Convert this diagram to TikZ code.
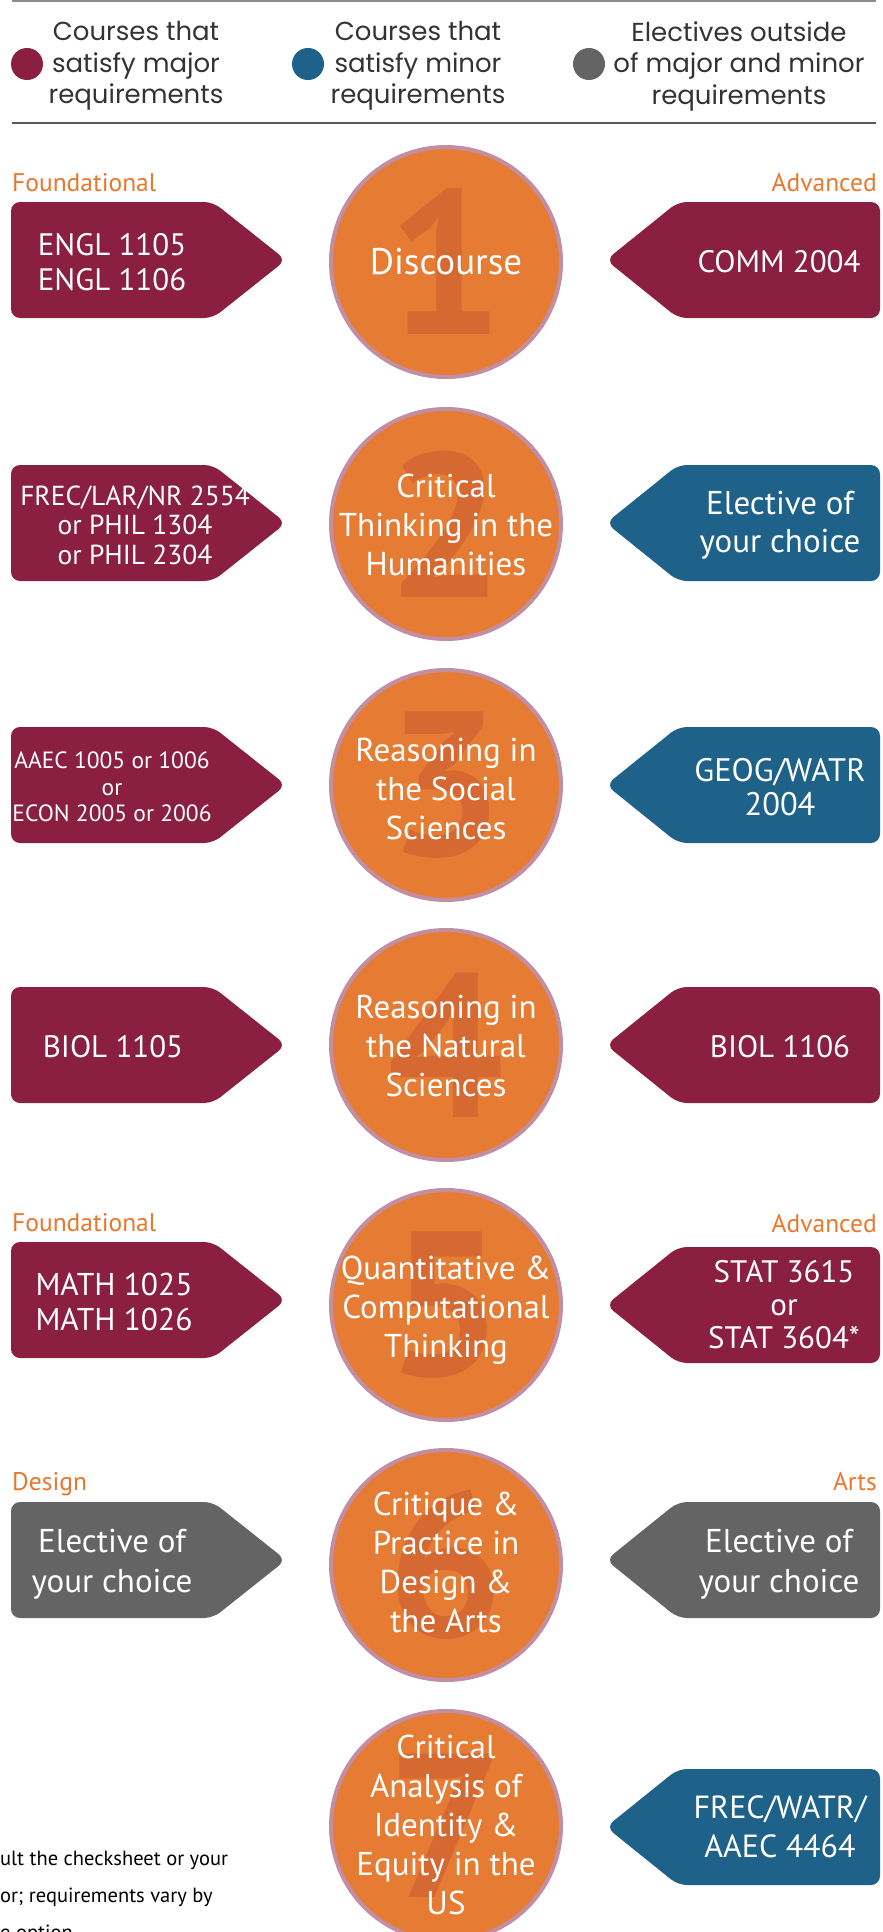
\documentclass[tikz,border=0pt]{standalone}
\usepackage{fontspec}
\setmainfont{PT Sans}
\newfontfamily\legendfont{Poppins}
\usetikzlibrary{positioning}
\definecolor{vtmaroon}{HTML}{8B1F41}
\definecolor{vtblue}{HTML}{1E6189}
\definecolor{vtgrey}{HTML}{646464}
\definecolor{discorange}{HTML}{E67C33}
\definecolor{digitorange}{HTML}{D66832}
\definecolor{discrim}{HTML}{C28EA3}
\definecolor{taglabel}{HTML}{E8772E}
\definecolor{legendtext}{HTML}{333333}

\begin{document}
\begin{tikzpicture}[x=1pt,y=-1pt,
  disc/.style={circle,fill=discorange,draw=discrim,line width=4pt,minimum size=230pt,inner sep=0pt},
  digit/.style={text=digitorange,inner sep=0pt,font=\fontsize{205}{205}\selectfont\bfseries},
  disctext/.style={text=white,align=center,inner sep=0pt,font=\fontsize{33}{39}\selectfont},
  tagtext/.style={text=white,align=center,inner sep=0pt,font=\fontsize{31}{35}\selectfont},
  tagname/.style={text=taglabel,inner sep=0pt,font=\fontsize{25.5}{25.5}\selectfont},
  legend/.style={text=legendtext,align=center,inner sep=0pt,font=\legendfont\fontsize{26}{31.5}\selectfont},
  tagshape/.style={rounded corners=9pt}]
\useasboundingbox (0,0) rectangle (883,1932);

% legend
\draw [line width=1.5pt, color=black!45] (12,1) -- (876,1);
\draw [line width=2pt, color=black!65] (12,123) -- (876,123);
\fill [vtmaroon] (27,64) circle (16pt);
\fill [vtblue] (308,64) circle (16pt);
\fill [vtgrey] (589,64) circle (16pt);
\node[legend] (lgmajor) at (136,66) {Courses that\\satisfy major\\requirements};
\node[legend] (lgminor) at (418,66) {Courses that\\satisfy minor\\requirements};
\node[legend] (lgother) at (739,66) {Electives outside\\of major and minor\\requirements};

% row labels
\node[tagname, anchor=base west] (found1) at (12,191) {Foundational};
\node[tagname, anchor=base east] (adv1) at (877,191) {Advanced};
\node[tagname, anchor=base west] (found5) at (12,1231) {Foundational};
\node[tagname, anchor=base east] (adv5) at (877,1232) {Advanced};
\node[tagname, anchor=base west] (design) at (12,1490) {Design};
\node[tagname, anchor=base east] (arts) at (877,1490) {Arts};

% left tags
\fill [vtmaroon, tagshape] (11,202) -- (213,202) -- (286,260) -- (213,318) -- (11,318) -- cycle;
\fill [vtmaroon, tagshape] (11,465) -- (213,465) -- (286,523) -- (213,581) -- (11,581) -- cycle;
\fill [vtmaroon, tagshape] (11,727) -- (213,727) -- (286,785) -- (213,843) -- (11,843) -- cycle;
\fill [vtmaroon, tagshape] (11,987) -- (213,987) -- (286,1045) -- (213,1103) -- (11,1103) -- cycle;
\fill [vtmaroon, tagshape] (11,1242) -- (213,1242) -- (286,1300) -- (213,1358) -- (11,1358) -- cycle;
\fill [vtgrey, tagshape] (11,1502) -- (213,1502) -- (286,1560) -- (213,1618) -- (11,1618) -- cycle;

% right tags
\fill [vtmaroon, tagshape] (880,202) -- (678,202) -- (606,260) -- (678,318) -- (880,318) -- cycle;
\fill [vtblue, tagshape] (880,465) -- (678,465) -- (606,523) -- (678,581) -- (880,581) -- cycle;
\fill [vtblue, tagshape] (880,727) -- (678,727) -- (606,785) -- (678,843) -- (880,843) -- cycle;
\fill [vtmaroon, tagshape] (880,987) -- (678,987) -- (606,1045) -- (678,1103) -- (880,1103) -- cycle;
\fill [vtmaroon, tagshape] (880,1247) -- (678,1247) -- (606,1305) -- (678,1363) -- (880,1363) -- cycle;
\fill [vtgrey, tagshape] (880,1502) -- (678,1502) -- (606,1560) -- (678,1618) -- (880,1618) -- cycle;
\fill [vtblue, tagshape] (880,1769) -- (678,1769) -- (606,1827) -- (678,1885) -- (880,1885) -- cycle;

% tag texts
\node[tagtext] (engl) at (112,262) {ENGL 1105\\ENGL 1106};
\node[tagtext] (comm) at (779,262) {COMM 2004};
\node[tagtext, font=\fontsize{27.5}{29.5}\selectfont] (frec) at (135,525) {FREC/LAR/NR 2554\\or PHIL 1304\\or PHIL 2304};
\node[tagtext, font=\fontsize{33}{38}\selectfont] (elect2) at (780,525) {Elective of\\your choice};
\node[tagtext, font=\fontsize{23.5}{26.5}\selectfont] (aaec) at (112,787) {AAEC 1005 or 1006\\or\\ECON 2005 or 2006};
\node[tagtext, font=\fontsize{32.5}{34}\selectfont] (geog) at (780,787) {GEOG/WATR\\2004};
\node[tagtext] (biol5) at (113,1047) {BIOL 1105};
\node[tagtext] (biol6) at (780,1047) {BIOL 1106};
\node[tagtext, font=\fontsize{31.5}{35}\selectfont] (math) at (114,1302) {MATH 1025\\MATH 1026};
\node[tagtext, font=\fontsize{31}{33}\selectfont] (stat) at (784,1305) {STAT 3615\\or\\STAT 3604*};
\node[tagtext, font=\fontsize{33}{40}\selectfont] (electd) at (112,1564) {Elective of\\your choice};
\node[tagtext, font=\fontsize{33}{40}\selectfont] (electa) at (779,1564) {Elective of\\your choice};
\node[tagtext, font=\fontsize{32}{39}\selectfont] (frecw) at (780,1827) {FREC/WATR/\\AAEC 4464};

% discs
\node[disc] (d1) at (446,262) {};
\node[digit] (n1) at (d1) {1};
\node[disctext, font=\fontsize{37}{39}\selectfont] (t1) at (d1) {Discourse};
\node[disc] (d2) at (446,524) {};
\node[digit] (n2) at (d2) {2};
\node[disctext] (t2) at (446,525) {Critical\\Thinking in the\\Humanities};
\node[disc] (d3) at (446,785) {};
\node[digit] (n3) at (d3) {3};
\node[disctext] (t3) at (446,789) {Reasoning in\\the Social\\Sciences};
\node[disc] (d4) at (446,1045) {};
\node[digit] (n4) at (d4) {4};
\node[disctext] (t4) at (446,1046) {Reasoning in\\the Natural\\Sciences};
\node[disc] (d5) at (446,1305) {};
\node[digit] (n5) at (d5) {5};
\node[disctext] (t5) at (446,1310) {Quantitative \&\\Computational\\Thinking};
\node[disc] (d6) at (446,1565) {};
\node[digit] (n6) at (d6) {6};
\node[disctext] (t6) at (446,1562) {Critique \&\\Practice in\\Design \&\\the Arts};
\node[disc] (d7) at (446,1826) {};
\node[digit] (n7) at (d7) {7};
\node[disctext] (t7) at (446,1825) {Critical\\Analysis of\\Identity \&\\Equity in the\\US};

% footnote, cut at the edge
\node[align=left, anchor=north west, inner sep=0pt, font=\fontsize{20.5}{37}\selectfont] (note) at (0,1851)
{ult the checksheet or your\\or; requirements vary by\\e option};
\end{tikzpicture}
\end{document}
